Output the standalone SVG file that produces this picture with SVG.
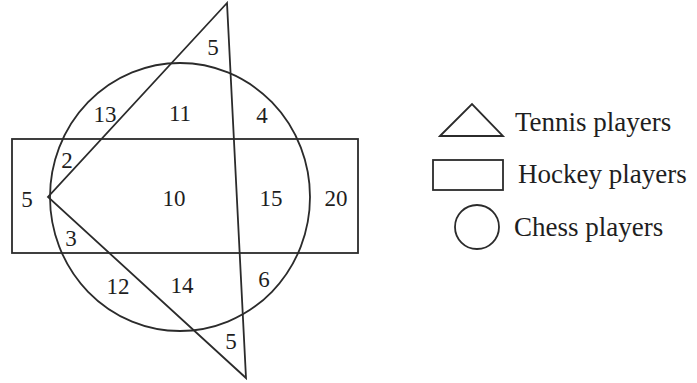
<svg xmlns="http://www.w3.org/2000/svg" width="697" height="383" viewBox="0 0 697 383">
<style>
.s{fill:none;stroke:#2b2b2b;stroke-width:1.8}
.n{font-family:"Liberation Serif","Times New Roman",serif;font-size:23px;fill:#1e1e1e;text-anchor:middle}
.l{font-family:"Liberation Serif","Times New Roman",serif;font-size:27px;fill:#1e1e1e}
</style>
<rect width="697" height="383" fill="#fff"/>
<g id="hockey"><rect class="s" x="12" y="139" width="346" height="114"/></g>
<g id="chess"><ellipse class="s" cx="180" cy="197" rx="130" ry="134"/></g>
<g id="tennis"><polygon class="s" points="227,3 48,197 246,378"/></g>
<g id="numbers">
<text class="n" x="213" y="55">5</text>
<text class="n" x="105" y="122">13</text>
<text class="n" x="180" y="121">11</text>
<text class="n" x="262" y="123">4</text>
<text class="n" x="67" y="168">2</text>
<text class="n" x="27" y="207">5</text>
<text class="n" x="174" y="206">10</text>
<text class="n" x="271" y="206">15</text>
<text class="n" x="336" y="206">20</text>
<text class="n" x="71" y="246">3</text>
<text class="n" x="118" y="294">12</text>
<text class="n" x="182" y="293">14</text>
<text class="n" x="264" y="287">6</text>
<text class="n" x="231" y="349">5</text>
</g>
<g id="legend-tennis"><polygon class="s" points="440,136 472,104 503,136"/><text class="l" x="515" y="131">Tennis players</text></g>
<g id="legend-hockey"><rect class="s" x="433" y="160" width="70" height="30"/><text class="l" x="518" y="183">Hockey players</text></g>
<g id="legend-chess"><circle class="s" cx="477" cy="227" r="22"/><text class="l" x="514" y="236">Chess players</text></g>
</svg>
